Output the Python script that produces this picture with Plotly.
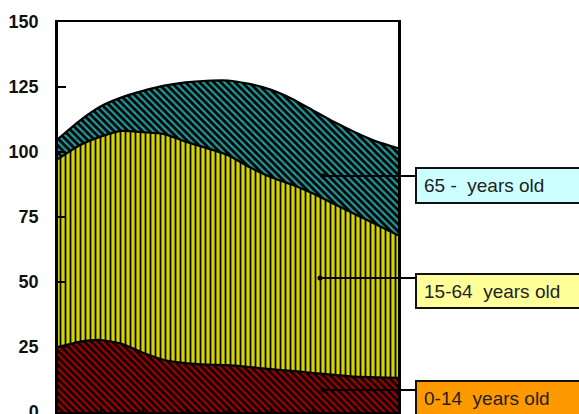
import plotly.graph_objects as go

# Japan population by age group, millions (1970-2050, 5-year steps)
years = [1970, 1975, 1980, 1985, 1990, 1995, 2000, 2005, 2010,
         2015, 2020, 2025, 2030, 2035, 2040, 2045, 2050]
age_0_14 = [25.0, 27.0, 27.7, 26.2, 22.8, 20.0, 18.8, 18.2, 18.0,
            17.3, 16.5, 15.8, 15.0, 14.3, 13.6, 13.3, 13.1]
age_15_64 = [72.3, 75.5, 78.2, 81.9, 84.8, 86.9, 85.2, 83.3, 80.8,
             76.9, 73.9, 71.7, 69.0, 65.7, 62.4, 58.7, 54.9]
age_65_up = [7.7, 9.4, 11.6, 12.9, 15.9, 18.6, 22.8, 25.9, 28.7,
             32.0, 33.6, 33.0, 32.0, 31.5, 31.5, 32.0, 33.5]

y_ticks = [0, 25, 50, 75, 100, 125, 150]
NB = "\u00a0"
label_texts = ["65 -" + NB + " years old",
               "15-64" + NB + " years old",
               "0-14" + NB + " years old"]

W, H = 579, 414
L, R, T, B = 58, 398, 22, 412   # plot area edges in pixels


def px(x):
    return (x - L) / (R - L)


def py(y):
    return (B - y) / (B - T)


fig = go.Figure()

series = [
    (age_0_14, "\\", "#9c0000", "black", 0.5),
    (age_15_64, "|", "black", "#d4d400", 0.35),
    (age_65_up, "\\", "#1f9c9c", "black", 0.45),
]
for vals, shape, fg, bg, sol in series:
    fig.add_trace(go.Scatter(
        x=years, y=vals, mode="lines", stackgroup="pop",
        line=dict(color="black", width=2.2, shape="spline", smoothing=0.6),
        fillpattern=dict(shape=shape, fgcolor=fg, bgcolor=bg,
                         size=5, solidity=sol, fillmode="replace"),
        hoverinfo="skip", showlegend=False,
    ))

# label boxes with leader lines
boxes = [
    # (text, fill, box top px, box bottom px, line y px, dot x px)
    (label_texts[0], "#ccffff", 168, 203, 176, 323),
    (label_texts[1], "#ffff99", 274, 308, 278, 320),
    (label_texts[2], "#ff9900", 381, 415, 390, 323),
]
for text, fill, top, bot, ly, dx in boxes:
    fig.add_shape(type="rect", xref="paper", yref="paper",
                  x0=px(416), x1=px(600), y0=py(bot), y1=py(top),
                  fillcolor=fill, line=dict(color="#111", width=2),
                  layer="above")
    fig.add_shape(type="line", xref="paper", yref="paper",
                  x0=px(dx), x1=px(416), y0=py(ly), y1=py(ly),
                  line=dict(color="black", width=2), layer="above")
    fig.add_shape(type="circle", xref="paper", yref="paper",
                  x0=px(dx - 2.5), x1=px(dx + 2.5),
                  y0=py(ly + 2.5), y1=py(ly - 2.5),
                  fillcolor="black", line=dict(width=0), layer="above")
    fig.add_annotation(xref="paper", yref="paper",
                       x=px(422), y=py((top + bot) / 2),
                       xanchor="left", yanchor="middle",
                       text=text, showarrow=False,
                       font=dict(family="Liberation Sans", size=19,
                                 color="#222"))

fig.update_layout(
    width=W, height=H,
    margin=dict(l=L, r=W - R, t=T, b=H - B, pad=0),
    paper_bgcolor="white", plot_bgcolor="white",
    template="none",
    showlegend=False,
)
fig.update_xaxes(
    range=[1970, 2050], dtick=10, ticks="inside", ticklen=6,
    tickwidth=2, tickcolor="black", showticklabels=False,
    showgrid=False, zeroline=False, showline=True, linecolor="black",
    linewidth=2, mirror=True, automargin=False,
)
fig.update_yaxes(
    range=[0, 150], tickvals=y_ticks, ticks="inside", ticklen=8,
    tickwidth=2, tickcolor="black", ticklabelstandoff=13,
    ticklabeloverflow="allow",
    tickfont=dict(family="Liberation Sans", size=18, color="#111",
                  weight="bold"),
    showgrid=False, zeroline=False, showline=True, linecolor="black",
    linewidth=2.5, mirror=True, automargin=False,
)

fig.write_html("out.html")
